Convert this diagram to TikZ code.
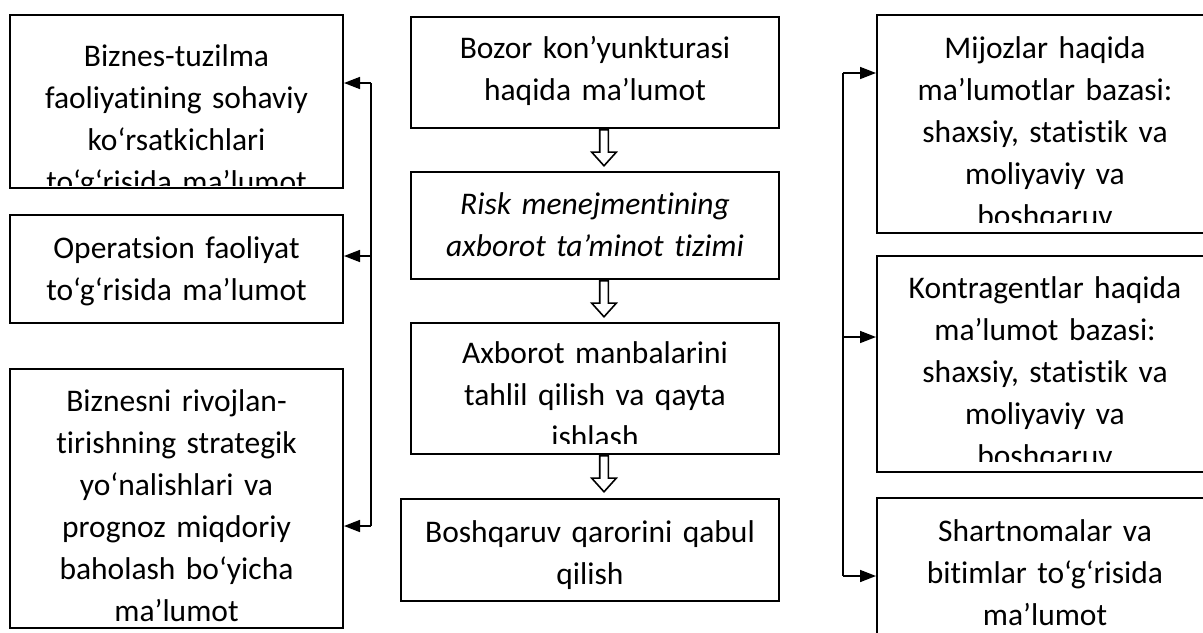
\documentclass[tikz,border=0pt]{standalone}
\usepackage{fontspec}
\setmainfont{Carlito}[Ligatures={NoCommon,NoRare}]
\usetikzlibrary{arrows.meta,fit,shapes.arrows}

\begin{document}
\begin{tikzpicture}[
    x=0.5pt, y=-0.5pt,
    box/.style={draw=black, line width=1pt, inner sep=0pt},
    txt/.style={anchor=base, align=center, inner sep=0pt, text width=#1,
        font=\fontsize{15.75}{21}\selectfont},
    link/.style={draw=black, line width=0.8pt},
    feed/.style={link, -{Triangle[length=8pt, width=6pt]}},
    hollow/.style={single arrow, draw=black, line width=0.8pt, fill=white,
        shape border rotate=270, anchor=tail, inner sep=1.75pt,
        minimum height=18pt, single arrow head extend=4pt,
        single arrow tip angle=84}
]
    \useasboundingbox (0,0) rectangle (1203,632);
    \clip (0,0) rectangle (1203,632);

    \node[box, fit={(10,15) (343,188)}] (sector) {};
    \node[box, fit={(10,215) (343,323)}] (operat) {};
    \node[box, fit={(10,369) (343,628)}] (strateg) {};
    \node[box, fit={(411,17) (779,128)}] (market) {};
    \node[box, fit={(411,172) (779,279)}] (riskinfo) {};
    \node[box, fit={(411,323) (779,454)}] (analysis) {};
    \node[box, fit={(401,499) (779,601)}] (decision) {};
    \node[box, fit={(877,15) (1213,233)}] (clients) {};
    \node[box, fit={(877,256) (1213,472)}] (partners) {};
    \node[box, fit={(877,498) (1213,660)}] (contracts) {};

    \begin{scope}
        \clip (10,15) rectangle (343,185);
        \node[txt=170pt] (sectortxt) at (176.5,66) {Biznes-tuzilma\\ faoliyatining sohaviy\\ ko‘rsatkichlari\\ to‘g‘risida ma’lumot};
    \end{scope}
    \node[txt=170pt] (operattxt) at (176.5,258) {Operatsion faoliyat\\ to‘g‘risida ma’lumot};
    \node[txt=170pt] (strategtxt) at (176.5,411) {Biznesni rivojlan-\\ tirishning strategik\\ yo‘nalishlari va\\ prognoz miqdoriy\\ baholash bo‘yicha\\ ma’lumot};

    \node[txt=180pt] (markettxt) at (595,58) {Bozor kon’yunkturasi\\ haqida ma’lumot};
    \node[txt=180pt, font=\fontsize{15.75}{21}\selectfont\itshape] (riskinfotxt) at (595,214) {Risk menejmentining\\ axborot ta’minot tizimi};
    \begin{scope}
        \clip (411,323) rectangle (779,443);
        \node[txt=180pt] (analysistxt) at (595,363) {Axborot manbalarini\\ tahlil qilish va qayta\\ ishlash};
    \end{scope}
    \node[txt=180pt] (decisiontxt) at (590,542) {Boshqaruv qarorini qabul\\ qilish};

    \begin{scope}
        \clip (877,15) rectangle (1213,222);
        \node[txt=165pt] (clientstxt) at (1045,58) {Mijozlar haqida\\ ma’lumotlar bazasi:\\ shaxsiy, statistik va\\ moliyaviy va\\ boshqaruv};
    \end{scope}
    \begin{scope}
        \clip (877,256) rectangle (1213,461);
        \node[txt=165pt] (partnerstxt) at (1045,298) {Kontragentlar haqida\\ ma’lumot bazasi:\\ shaxsiy, statistik va\\ moliyaviy va\\ boshqaruv};
    \end{scope}
    \node[txt=165pt] (contractstxt) at (1045,541) {Shartnomalar va\\ bitimlar to‘g‘risida\\ ma’lumot};

    \node[hollow] (down1) at ([xshift=4.5pt]market.south) {};
    \node[hollow] (down2) at ([xshift=4.5pt]riskinfo.south) {};
    \node[hollow] (down3) at ([xshift=4.5pt]analysis.south) {};

    \coordinate (lbtop) at (371,83);
    \coordinate (lbmid) at (371,256);
    \coordinate (lbbot) at (371,526);
    \draw[link] (lbtop) -- (lbbot);
    \draw[feed] (lbtop) -- (lbtop -| sector.east);
    \draw[feed] (lbmid) -- (lbmid -| operat.east);
    \draw[feed] (lbbot) -- (lbbot -| strateg.east);

    \coordinate (rbtop) at (843,73);
    \coordinate (rbmid) at (843,337);
    \coordinate (rbbot) at (843,576);
    \draw[link] (rbtop) -- (rbbot);
    \draw[feed] (rbtop) -- (rbtop -| clients.west);
    \draw[feed] (rbmid) -- (rbmid -| partners.west);
    \draw[feed] (rbbot) -- (rbbot -| contracts.west);
\end{tikzpicture}
\end{document}
